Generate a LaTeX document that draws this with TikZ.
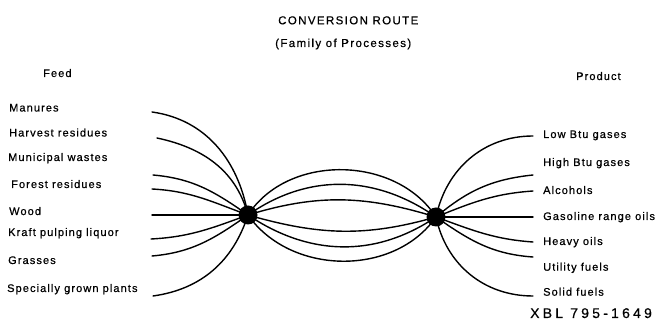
\documentclass[tikz,border=0pt]{standalone}
\usepackage{fontspec}
\setmainfont{Liberation Sans}
\newfontfamily\lblfont{Liberation Sans}[LetterSpace=10,FakeBold=0.6]
\newfontfamily\titfont{Liberation Sans}[LetterSpace=12,FakeBold=0.6]
\newfontfamily\xblfont{Liberation Sans}[LetterSpace=23,FakeBold=0.6]
\begin{document}
\begin{tikzpicture}[x=1pt,y=1pt,
  lbl/.style={anchor=base west,inner sep=0pt,font=\lblfont\fontsize{11}{13}\selectfont},
  tit/.style={anchor=base west,inner sep=0pt,font=\titfont\fontsize{11.5}{13}\selectfont},
  wire/.style={line width=1.4pt,line cap=round},
  hub/.style={circle,fill=black,inner sep=0pt,minimum size=19pt}]
\useasboundingbox (0,0) rectangle (657,-328);
% titles
\node[tit] (t1) at (278,-24.3) {CONVERSION ROUTE};
\node[tit] (t2) at (275,-47) {(Family of Processes)};
\node[lbl] (feed) at (43,-77) {Feed};
\node[lbl] (prod) at (576,-80) {Product};
% feed labels
\node[lbl] (f1) at (9,-111.5) {Manures};
\node[lbl] (f2) at (9,-136.5) {Harvest residues};
\node[lbl] (f3) at (8,-161) {Municipal wastes};
\node[lbl] (f4) at (11,-188) {Forest residues};
\node[lbl] (f5) at (9,-215) {Wood};
\node[lbl] (f6) at (8,-236) {Kraft pulping liquor};
\node[lbl] (f7) at (8,-264) {Grasses};
\node[lbl] (f8) at (7,-292) {Specially grown plants};
% product labels
\node[lbl] (p1) at (543,-138) {Low Btu gases};
\node[lbl] (p2) at (543,-166) {High Btu gases};
\node[lbl] (p3) at (543,-194) {Alcohols};
\node[lbl] (p4) at (543,-220) {Gasoline range oils};
\node[lbl] (p5) at (543,-245) {Heavy oils};
\node[lbl] (p6) at (543,-270.7) {Utility fuels};
\node[lbl] (p7) at (543,-295.7) {Solid fuels};
\node[anchor=base west,inner sep=0pt,font=\xblfont\fontsize{14}{16}\selectfont] (xbl) at (530,-318) {XBL 795-1649};
% hubs
\coordinate (L) at (248,-215);
\coordinate (R) at (436,-217);
% line ends
\coordinate (a1) at (152,-112);
\coordinate (a2) at (157,-138);
\coordinate (a3) at (153,-175);
\coordinate (a4) at (152,-189);
\coordinate (a5) at (152,-215);
\coordinate (a6) at (151,-239);
\coordinate (a7) at (152,-256);
\coordinate (a8) at (153,-296);
\coordinate (b1) at (533,-136);
\coordinate (b2) at (533,-175);
\coordinate (b3) at (533,-191);
\coordinate (b4) at (533,-217);
\coordinate (b5) at (533,-242);
\coordinate (b6) at (533,-257);
\coordinate (b7) at (533,-296);
% feed wires
\draw[wire] (a1) to[out=-8,in=100] (L);
\draw[wire] (a2) to[out=-12,in=105] (L);
\draw[wire] (a3) to[out=-5,in=145] (L);
\draw[wire] (a4) to[out=-3,in=160] (L);
\draw[wire] (a5) -- (L);
\draw[wire] (a6) to[out=3,in=200] (L);
\draw[wire] (a7) to[out=5,in=215] (L);
\draw[wire] (a8) to[out=8,in=252] (L);
% process wires
\draw[wire] (L) to[out=57,in=123] (R);
\draw[wire] (L) to[out=35,in=145] (R);
\draw[wire] (L) to[out=17,in=163] (R);
\draw[wire] (L) to[out=-16,in=196] (R);
\draw[wire] (L) to[out=-34,in=214] (R);
\draw[wire] (L) to[out=-55,in=235] (R);
% product wires
\draw[wire] (R) to[out=78,in=180] (b1);
\draw[wire] (R) to[out=40,in=186] (b2);
\draw[wire] (R) to[out=22,in=184] (b3);
\draw[wire] (R) -- (b4);
\draw[wire] (R) to[out=-20,in=176] (b5);
\draw[wire] (R) to[out=-35,in=176] (b6);
\draw[wire] (R) to[out=-78,in=180] (b7);
% hub dots
\node[hub] (Ldot) at (L) {};
\node[hub] (Rdot) at (R) {};
\end{tikzpicture}
\end{document}
